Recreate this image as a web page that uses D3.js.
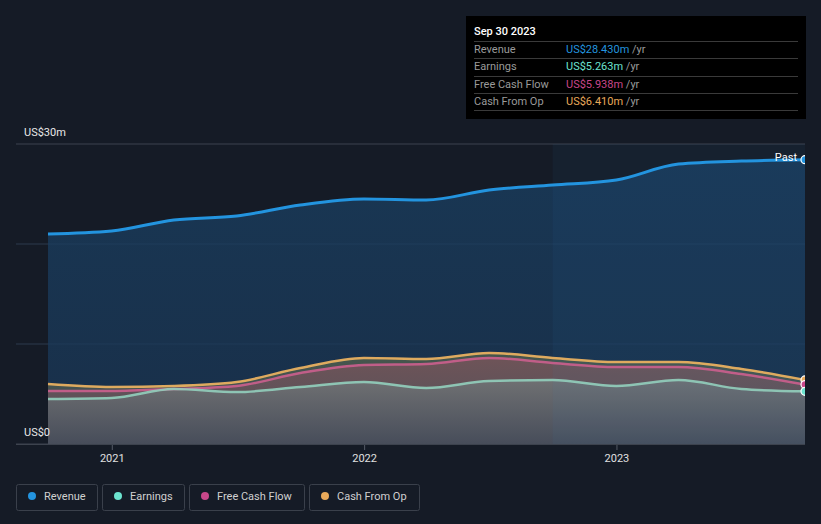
<!DOCTYPE html>
<html><head><meta charset="utf-8">
<script src="https://cdn.jsdelivr.net/npm/d3@7"></script>
<style>
html,body{margin:0;padding:0;background:#151b26;}
svg{display:block;font-family:Roboto,"Open Sans",sans-serif;}
</style></head>
<body>
<svg id="c" width="821" height="524"></svg>
<script>
const dates = ["2020-09-30","2020-12-31","2021-03-31","2021-06-30","2021-09-30","2021-12-31","2022-03-31","2022-06-30","2022-09-30","2022-12-31","2023-03-31","2023-06-30","2023-09-30"];
const revenue = [21.0,21.3,22.4,22.8,23.9,24.5,24.4,25.4,25.9,26.4,28.0,28.3,28.43];
const cashFromOp = [6.0,5.7,5.8,6.2,7.6,8.6,8.5,9.1,8.6,8.2,8.2,7.5,6.41];
const freeCashFlow = [5.3,5.3,5.5,5.8,7.1,7.9,8.0,8.6,8.1,7.7,7.7,7.0,5.938];
const earnings = [4.5,4.6,5.5,5.2,5.7,6.2,5.6,6.3,6.4,5.8,6.4,5.5,5.263];
const yTicks = [0,10,20,30];
const xTickYears = ["2021","2022","2023"];
const seriesNames = ["Revenue","Earnings","Free Cash Flow","Cash From Op"];
const seriesColors = ["#2394df","#6ce3cf","#c8478a","#e8a95a"];
const tooltipValues = ["US$28.430m","US$5.263m","US$5.938m","US$6.410m"];
const tooltipDate = "Sep 30 2023";

const parse = d3.timeParse("%Y-%m-%d");
const T = dates.map(parse);
const svg = d3.select("#c");
const x = d3.scaleTime().domain([T[0], T[T.length-1]]).range([48, 805]);
const y = d3.scaleLinear().domain([0,30]).range([444,144]);

const defs = svg.append("defs");
defs.append("clipPath").attr("id","clip").append("rect").attr("x",16).attr("y",100).attr("width",789).attr("height",344);
function grad(id, stops){
  const g = defs.append("linearGradient").attr("id",id).attr("x1",0).attr("x2",0).attr("y1",0).attr("y2",1);
  stops.forEach(s=>g.append("stop").attr("offset",s[0]).attr("stop-color",s[1]).attr("stop-opacity",s[2]));
}
grad("gRev",[[0,"#1a4063",0.75],[1,"#1a3655",0.75]]);
grad("gCfo",[[0,"#4a5a4c",0.9],[1,"#4a4f58",0.9]]);
grad("gFcf",[[0,"#6e5458",1],[1,"#4d4f5a",1]]);
grad("gEarn",[[0,"#6f7072",1],[1,"#474d5a",1]]);

// gridlines
yTicks.forEach(t=>{
  svg.append("line").attr("x1",16).attr("x2",805).attr("y1",y(t)).attr("y2",y(t))
    .attr("stroke", t===30 ? "#3d434e" : (t===0 ? "#3d434e" : "#2c3a4c")).attr("stroke-width",1);
});

const g = svg.append("g").attr("clip-path","url(#clip)");
const idx = d3.range(dates.length);
function area(vals, fill){
  g.append("path").attr("fill",fill)
   .attr("d", d3.area().x(i=>x(T[i])).y0(y(0)).y1(i=>y(vals[i])).curve(d3.curveMonotoneX)(idx));
}
function line(vals, color, w, op){
  g.append("path").attr("fill","none").attr("stroke",color).attr("stroke-width",w).attr("stroke-opacity",op)
   .attr("d", d3.line().x(i=>x(T[i])).y(i=>y(vals[i])).curve(d3.curveMonotoneX)(idx));
}
area(revenue,"url(#gRev)");
area(cashFromOp,"url(#gCfo)");
area(freeCashFlow,"url(#gFcf)");
area(earnings,"url(#gEarn)");

// highlight last-year region
g.append("rect").attr("x", x(parse("2022-09-30"))).attr("y",144).attr("width", 805 - x(parse("2022-09-30"))).attr("height",300)
  .attr("fill","#3a8ad0").attr("fill-opacity",0.06);

line(revenue,"#2394df",3,1);
line(cashFromOp,"#e8b060",2.5,0.95);
line(freeCashFlow,"#cc5f8e",2.5,0.9);
line(earnings,"#92cfbd",2.5,0.9);

// end dots
const last = dates.length-1;
[[revenue,seriesColors[0]],[cashFromOp,seriesColors[3]],[freeCashFlow,seriesColors[2]],[earnings,seriesColors[1]]].forEach(([v,c])=>{
  g.append("circle").attr("cx",x(T[last])).attr("cy",y(v[last])).attr("r",4)
   .attr("fill",c).attr("stroke","#fff").attr("stroke-width",1.2);
});

svg.append("text").attr("x",797).attr("y",161).attr("text-anchor","end").attr("fill","#fff")
  .attr("font-size",11).text("Past");

// axis
svg.append("line").attr("x1",16).attr("x2",805).attr("y1",444.5).attr("y2",444.5).attr("stroke","#3d434e");
xTickYears.forEach(yr=>{
  const xp = x(parse(yr+"-01-01"));
  svg.append("line").attr("x1",xp).attr("x2",xp).attr("y1",445).attr("y2",450).attr("stroke","#555b66");
  svg.append("text").attr("x",xp).attr("y",462).attr("text-anchor","middle").attr("fill","#e0e0e0")
    .attr("font-size",11).text(yr);
});
svg.append("text").attr("x",24).attr("y",136).attr("fill","#e8e8e8").attr("font-size",11).text("US$30m");
svg.append("text").attr("x",24).attr("y",436).attr("fill","#e8e8e8").attr("font-size",11).text("US$0");

// tooltip
const tt = svg.append("g");
tt.append("rect").attr("x",466).attr("y",16).attr("width",340).attr("height",103).attr("fill","#000");
tt.append("text").attr("x",474).attr("y",35).attr("fill","#fff").attr("font-size",11).attr("font-weight","500").text(tooltipDate);
const rowY = [49,66,84,101];
[41.5,58.5,76.5,93.5,110.5].forEach(yy=>tt.append("line").attr("x1",474).attr("x2",798).attr("y1",yy).attr("y2",yy).attr("stroke","#3a3a3a"));
seriesNames.forEach((n,i)=>{
  tt.append("text").attr("x",474).attr("y",rowY[i]+4).attr("fill","#9a9a9a").attr("font-size",11).text(n);
  const t = tt.append("text").attr("x",566).attr("y",rowY[i]+4).attr("font-size",11);
  t.append("tspan").attr("fill",seriesColors[i]).text(tooltipValues[i]);
  t.append("tspan").attr("fill","#9a9a9a").text(" /yr");
});

// legend
const legX = [16,102,189,309], legW = [81,82,115,110];
seriesNames.forEach((n,i)=>{
  const lg = svg.append("g");
  lg.append("rect").attr("x",legX[i]+0.5).attr("y",484.5).attr("width",legW[i]).attr("height",26).attr("rx",2)
    .attr("fill","none").attr("stroke","#3a404b");
  lg.append("circle").attr("cx",legX[i]+16).attr("cy",496).attr("r",4).attr("fill",seriesColors[i]);
  lg.append("text").attr("x",legX[i]+28).attr("y",500).attr("fill","#d0d0d0").attr("font-size",11).text(n);
});
</script>
</body></html>
